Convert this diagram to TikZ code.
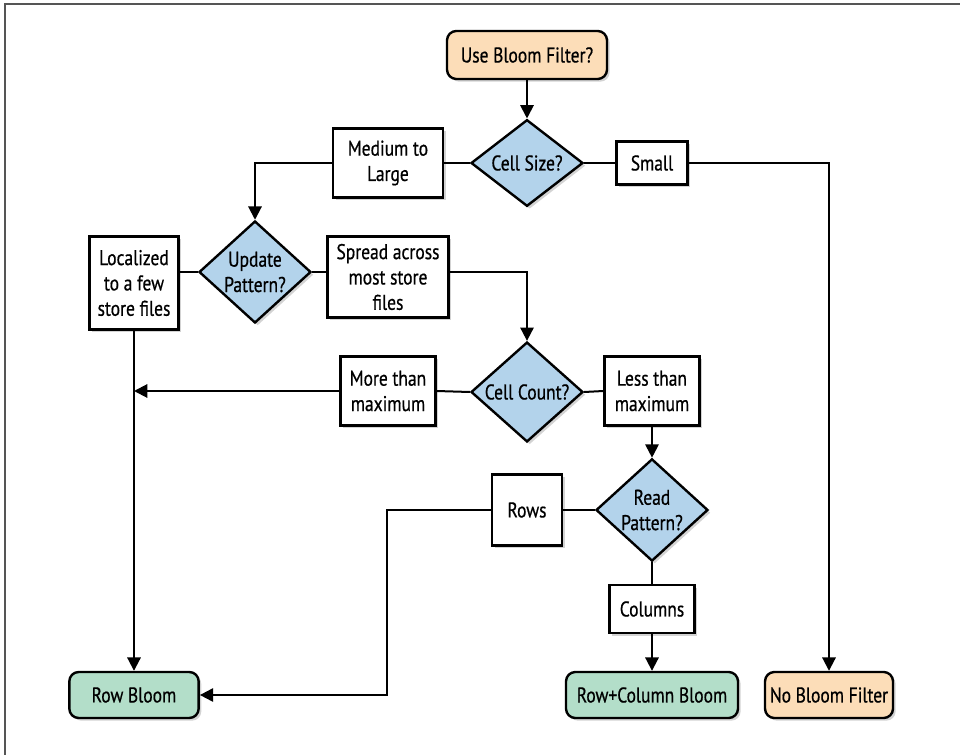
\documentclass[tikz,border=0pt]{standalone}
\usepackage{fontspec}
\setmainfont{PT Sans}[FakeStretch=0.82, FakeBold=0.6]
\usepackage{tikz}
\usetikzlibrary{
	shapes.geometric,
	arrows.meta,
	shadows,
	calc
}
\definecolor{peach}{HTML}{FCDDB8}
\definecolor{mint}{HTML}{B3DEC9}
\definecolor{skyblue}{HTML}{B3D3EB}
\definecolor{framegray}{HTML}{555555}

\begin{document}
\begin{tikzpicture}[
				x=0.75pt, y=-0.75pt,
				every node/.style={font=\fontsize{16}{19}\selectfont},
				shade/.style={
					drop shadow={opacity=0.35, shadow xshift=2pt, shadow yshift=-2pt}
				},
				stage/.style={
					rectangle, draw, line width=1.8pt, fill=white,
					inner sep=0pt, align=center, shade
				},
				endbox/.style={
					stage, rounded corners=7pt
				},
				startbox/.style={
					endbox, fill=peach
				},
				bloombox/.style={
					endbox, fill=mint
				},
				question/.style={
					diamond, draw, line width=1.8pt, fill=skyblue,
					inner sep=0pt, align=center, shade,
					minimum width=84pt, minimum height=65pt
				},
				link/.style={line width=1.5pt, black},
				arrow/.style={link, -{Triangle[width=10pt, length=10pt]}}
				]
				
				\useasboundingbox (0,0) rectangle (960,755);
				
				% frame
				\draw[framegray, line width=1.2pt] (960,4) -- (5,4) -- (5,755);
				
				% start
				\node[startbox, minimum width=120pt, minimum height=36pt] (usefilter) at (527,55) {Use Bloom Filter?};
				
				% cell size
				\node[question] (cellsize) at (527,163) {Cell Size?};
				\node[stage, minimum width=82.5pt, minimum height=52pt] (medlarge) at (388,163) {Medium to\\Large};
				\node[stage, minimum width=53pt, minimum height=32pt] (small) at (652,163) {Small};
				
				% update pattern
				\node[question] (update) at (255,272) {Update\\Pattern?};
				\node[stage, minimum width=67pt, minimum height=70pt] (localized) at (134,283) {Localized\\to a few\\store files};
				\node[stage, minimum width=91pt, minimum height=61pt] (spread) at (388,277) {Spread across\\most store\\files};
				
				% cell count
				\node[question] (cellcount) at (527,392) {Cell Count?};
				\node[stage, minimum width=71pt, minimum height=52pt] (morethan) at (388,391) {More than\\maximum};
				\node[stage, minimum width=71pt, minimum height=52pt] (lessthan) at (652,391) {Less than\\maximum};
				
				% read pattern
				\node[question] (readpat) at (652,510) {Read\\Pattern?};
				\node[stage, minimum width=52.5pt, minimum height=53pt] (rows) at (527,510) {Rows};
				\node[stage, minimum width=64pt, minimum height=36pt] (columns) at (652,609) {Columns};
				
				% results
				\node[bloombox, minimum width=97pt, minimum height=34.5pt] (rowbloom) at (134,695) {Row Bloom};
				\node[bloombox, minimum width=129pt, minimum height=34.5pt] (rowcolbloom) at (652,695) {Row+Column Bloom};
				\node[startbox, minimum width=96pt, minimum height=34.5pt] (nobloom) at (829,695) {No Bloom Filter};
				
				\coordinate (bend) at (387,510);
				
				% connectors
				\draw[arrow] (usefilter) -- (cellsize);
				\draw[link] (cellsize.west) -- (medlarge.east);
				\draw[arrow] (medlarge.west) -| (update.north);
				\draw[link] (cellsize.east) -- (small.west);
				\draw[arrow] (small.east) -| (nobloom.north);
				\draw[link] (update.west) -- (update.west -| localized.east);
				\draw[link] (update.east) -- (update.east -| spread.west);
				\draw[arrow] (update.east -| spread.east) -| (cellcount.north);
				\draw[arrow] (localized.south) -- (rowbloom.north);
				\draw[link] (cellcount.west) -- (morethan.east);
				\draw[arrow] (morethan.west) -- (morethan.west -| localized.south);
				\draw[link] (cellcount.east) -- (lessthan.west);
				\draw[arrow] (lessthan.south) -- (readpat.north);
				\draw[link] (readpat.west) -- (rows.east);
				\draw[arrow] (rows.west) -- (bend) |- (rowbloom.east);
				\draw[link] (readpat.south) -- (columns.north);
				\draw[arrow] (columns.south) -- (rowcolbloom.north);
			\end{tikzpicture}
\end{document}
